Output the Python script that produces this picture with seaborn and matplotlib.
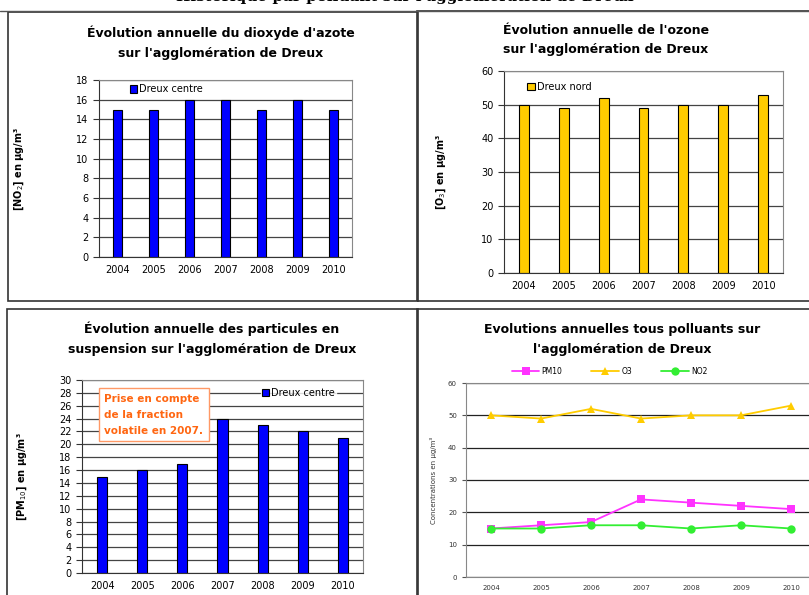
import matplotlib
matplotlib.use("Agg")
import matplotlib.pyplot as plt
import matplotlib.patches as mpatches
import numpy as np
import pandas as pd
import seaborn as sns

W, H = 809, 595

years = ["2004", "2005", "2006", "2007", "2008", "2009", "2010"]
no2_centre = [15, 15, 16, 16, 15, 16, 15]
o3_nord = [50, 49, 52, 49, 50, 50, 53]
pm10_centre = [15, 16, 17, 24, 23, 22, 21]

BLUE = "#0000FF"
GOLD = "#FFCC00"
MAGENTA = "#FF33FF"
GREEN = "#33EE33"
GRID = "#444444"

sns.set_theme(style="white")
plt.rcParams["font.family"] = ["DejaVu Sans"]
plt.rcParams["text.color"] = "black"
plt.rcParams["axes.labelcolor"] = "black"
plt.rcParams["xtick.color"] = "black"
plt.rcParams["ytick.color"] = "black"


def box(fig, x0, y0, x1, y1):
    # panel frame in pixel coords (top-left origin)
    r = mpatches.Rectangle((x0 / W, 1 - y1 / H), (x1 - x0) / W, (y1 - y0) / H,
                           transform=fig.transFigure, fill=False,
                           edgecolor="#333333", linewidth=1.2)
    fig.patches.append(r)


def ax_at(fig, x0, y0, x1, y1):
    return fig.add_axes([x0 / W, 1 - y1 / H, (x1 - x0) / W, (y1 - y0) / H])


def style_bar_axes(ax, ymax, step):
    ax.set_xlim(-0.5, 6.5)
    ax.set_ylim(0, ymax)
    ax.set_yticks(np.arange(0, ymax + 0.1, step))
    ax.yaxis.grid(True, color=GRID, linewidth=0.9)
    ax.set_axisbelow(True)
    for s in ax.spines.values():
        s.set_color("#888888")
        s.set_linewidth(0.8)
    ax.spines["left"].set_color("#333333")
    ax.spines["bottom"].set_color("#333333")
    ax.set_xticks(np.arange(-0.5, 7, 1), minor=True)
    ax.tick_params(axis="x", which="major", length=0, labelsize=7, pad=6)
    ax.tick_params(axis="x", which="minor", length=4, width=0.8, color="#333333", direction="out")
    ax.tick_params(axis="y", length=4, width=0.8, color="#333333", direction="out", labelsize=7, left=True)
    ax.set_xlabel("")


fig = plt.figure(figsize=(W / 100, H / 100), dpi=100)

# page heading, cut by the top edge as in the scan
fig.text(0.5, 1.0 + 3 / H, "Historique par polluant sur l'agglomération de Dreux",
         ha="center", va="center", fontsize=11, family="serif", weight="bold")
fig.add_artist(plt.Line2D([0, 1], [1 - 11 / H, 1 - 11 / H], transform=fig.transFigure,
                          color="#555555", linewidth=1))

box(fig, 8, 12, 418, 301)
box(fig, 417, 11, 812, 301)
box(fig, 7, 309, 418, 598)
box(fig, 417, 309, 812, 598)

TITLE_FS = 9

# --- NO2 ---
ax1 = ax_at(fig, 99, 80, 352, 257)
sns.barplot(x=years, y=no2_centre, color=BLUE, width=0.25, edgecolor="black",
            linewidth=0.8, saturation=1, label="Dreux centre", ax=ax1)
style_bar_axes(ax1, 18, 2)
ax1.legend(loc="upper left", bbox_to_anchor=(0.09, 1.02), frameon=False, fontsize=7,
           handlelength=0.8, handleheight=0.8, handletextpad=0.2, borderpad=0.3)
ax1.set_ylabel("[NO$_2$] en µg/m³", fontsize=7, weight="bold", labelpad=36)
fig.text(221 / W, 1 - 43 / H, "Évolution annuelle du dioxyde d'azote\nsur l'agglomération de Dreux",
         ha="center", va="center", fontsize=TITLE_FS, weight="bold", linespacing=1.7)

# --- O3 ---
ax2 = ax_at(fig, 504, 71, 783, 273)
sns.barplot(x=years, y=o3_nord, color=GOLD, width=0.25, edgecolor="black",
            linewidth=0.8, saturation=1, label="Dreux nord", ax=ax2)
style_bar_axes(ax2, 60, 10)
ax2.legend(loc="upper left", bbox_to_anchor=(0.055, 0.985), frameon=False, fontsize=7,
           handlelength=0.8, handleheight=0.8, handletextpad=0.2, borderpad=0.3)
ax2.set_ylabel("[O$_3$] en µg/m³", fontsize=7, weight="bold", labelpad=24)
fig.text(606 / W, 1 - 40 / H, "Évolution annuelle de l'ozone\nsur l'agglomération de Dreux",
         ha="center", va="center", fontsize=TITLE_FS, weight="bold", linespacing=1.7)

# --- PM10 ---
ax3 = ax_at(fig, 82, 380, 363, 573)
sns.barplot(x=years, y=pm10_centre, color=BLUE, width=0.25, edgecolor="black",
            linewidth=0.8, saturation=1, label="Dreux centre", ax=ax3)
style_bar_axes(ax3, 30, 2)
leg3 = ax3.legend(loc="center", bbox_to_anchor=(0.77, 28 / 30), frameon=True, fontsize=7,
                  handlelength=0.8, handleheight=0.8, handletextpad=0.2, borderpad=0.1,
                  fancybox=False)
leg3.get_frame().set_edgecolor("white")
leg3.get_frame().set_facecolor("white")
ax3.text(0.08, 0.93, "Prise en compte\nde la fraction\nvolatile en 2007.", transform=ax3.transAxes,
         ha="left", va="top", fontsize=7.5, weight="bold", color="#FF6611", linespacing=1.75,
         bbox=dict(boxstyle="square,pad=0.5", facecolor="white", edgecolor="#FF9966", linewidth=1))
ax3.set_ylabel("[PM$_{10}$] en µg/m³", fontsize=7, weight="bold", labelpad=22)
fig.text(212 / W, 1 - 339 / H, "Évolution annuelle des particules en\nsuspension sur l'agglomération de Dreux",
         ha="center", va="center", fontsize=TITLE_FS, weight="bold", linespacing=1.7)

# --- all pollutants ---
ax4 = ax_at(fig, 466, 383, 816, 577)
df = pd.DataFrame({
    "annee": [int(y) for y in years] * 3,
    "valeur": pm10_centre + o3_nord + no2_centre,
    "polluant": ["PM10"] * 7 + ["O3"] * 7 + ["NO2"] * 7,
})
sns.lineplot(data=df, x="annee", y="valeur", hue="polluant", style="polluant",
             palette={"PM10": MAGENTA, "O3": GOLD, "NO2": GREEN},
             markers={"PM10": "s", "O3": "^", "NO2": "o"}, dashes=False,
             markersize=6, markeredgewidth=0, linewidth=1.3, ax=ax4)
ax4.set_xlim(2003.5, 2010.5)
ax4.set_ylim(0, 60)
ax4.set_yticks(range(0, 61, 10))
ax4.set_xticks(range(2004, 2011))
ax4.set_xticks(np.arange(2003.5, 2011, 1), minor=True)
ax4.yaxis.grid(True, color="#222222", linewidth=0.9)
ax4.set_axisbelow(True)
for s in ax4.spines.values():
    s.set_color("#888888")
    s.set_linewidth(0.8)
ax4.spines["right"].set_visible(False)
ax4.tick_params(axis="x", which="major", length=0, labelsize=5, pad=6, labelcolor="#333333")
ax4.tick_params(axis="x", which="minor", length=3, width=0.8, color="#555555", direction="out")
ax4.tick_params(axis="y", length=3, width=0.8, color="#555555", direction="out", labelsize=5,
                left=True, labelcolor="#333333")
ax4.set_xlabel("")
ax4.set_ylabel("Concentrations en µg/m³", fontsize=5, color="#333333", labelpad=8)
sns.move_legend(ax4, "lower center", bbox_to_anchor=(0.41, 1.0), ncol=3, frameon=False,
                title=None, fontsize=5.5, columnspacing=3.8, handlelength=3.6, handletextpad=0.3)
fig.text(622 / W, 1 - 340 / H, "Evolutions annuelles tous polluants sur\nl'agglomération de Dreux",
         ha="center", va="center", fontsize=TITLE_FS, weight="bold", linespacing=1.7)

fig.savefig("out.png", dpi=100)
plt.close(fig)
